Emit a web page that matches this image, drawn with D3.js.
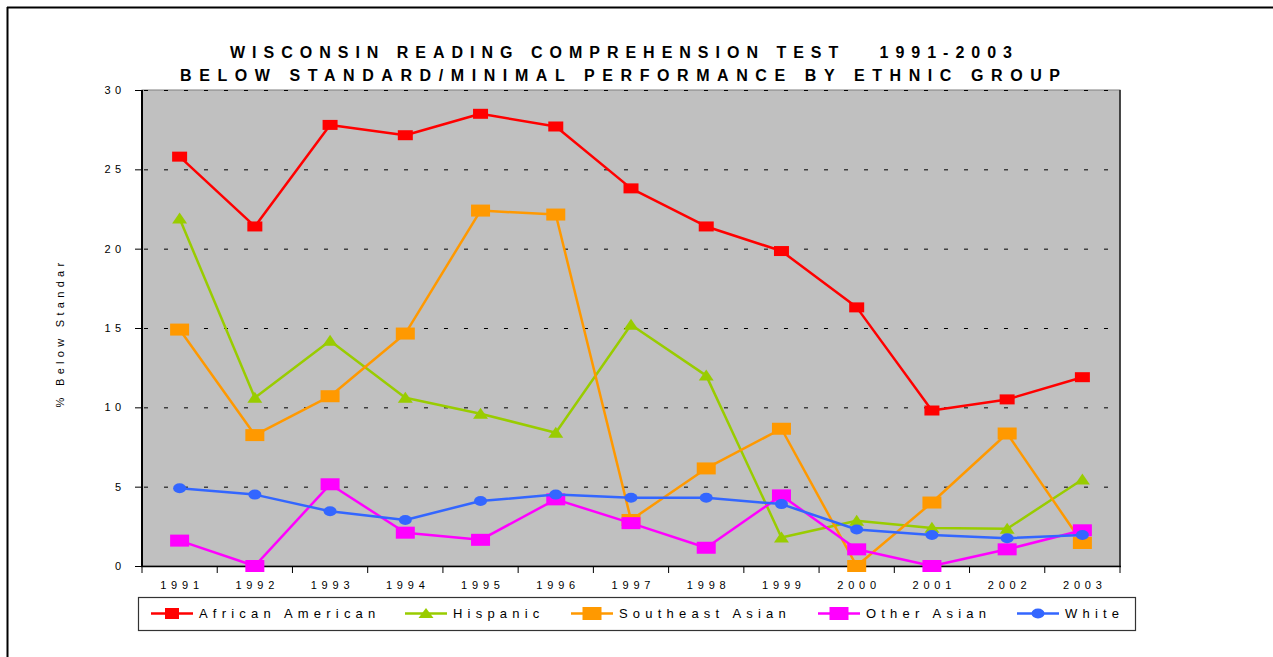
<!DOCTYPE html>
<html>
<head>
<meta charset="utf-8">
<script src="https://cdn.jsdelivr.net/npm/d3@7"></script>
<style>
  body { margin: 0; background: #fff; }
  svg { display: block; font-family: Arial, "Liberation Sans", sans-serif; }
</style>
</head>
<body>
<svg width="1273" height="657"></svg>
<script>
// data
var years = ["1991","1992","1993","1994","1995","1996","1997","1998","1999","2000","2001","2002","2003"];
var africanAmerican = [25.8, 21.4, 27.8, 27.15, 28.5, 27.7, 23.8, 21.4, 19.85, 16.3, 9.8, 10.5, 11.9];
var hispanic        = [21.9, 10.6, 14.2, 10.6, 9.6, 8.4, 15.2, 12.0, 1.8, 2.85, 2.4, 2.35, 5.45];
var southeastAsian  = [14.9, 8.25, 10.7, 14.65, 22.4, 22.15, 2.9, 6.15, 8.65, 0, 4.0, 8.35, 1.45];
var otherAsian      = [1.6, 0, 5.15, 2.1, 1.65, 4.2, 2.7, 1.15, 4.45, 1.05, 0, 1.05, 2.25];
var white           = [4.9, 4.5, 3.45, 2.9, 4.1, 4.5, 4.3, 4.3, 3.9, 2.3, 1.95, 1.75, 1.95];
var yTicks = [0, 5, 10, 15, 20, 25, 30];
var seriesNames = ["African American", "Hispanic", "Southeast Asian", "Other Asian", "White"];

var series = [
  {name: seriesNames[0], values: africanAmerican, color: "#ff0000", shape: "rect", w: 15, h: 10, lw: 14, lh: 11},
  {name: seriesNames[1], values: hispanic,        color: "#99cc00", shape: "tri",  w: 15, h: 11, lw: 15, lh: 10},
  {name: seriesNames[2], values: southeastAsian,  color: "#ff9900", shape: "rect", w: 19, h: 12, lw: 19, lh: 13},
  {name: seriesNames[3], values: otherAsian,      color: "#ff00ff", shape: "rect", w: 19, h: 12, lw: 19, lh: 13},
  {name: seriesNames[4], values: white,           color: "#3366ff", shape: "ell",  w: 13, h: 10, lw: 13, lh: 10}
];

var svg = d3.select("svg");

// page frame (top and left only)
svg.append("line").attr("x1", 7).attr("x2", 1273).attr("y1", 7.5).attr("y2", 7.5)
  .attr("stroke", "#000").attr("stroke-width", 2);
svg.append("line").attr("x1", 7.5).attr("x2", 7.5).attr("y1", 7).attr("y2", 657)
  .attr("stroke", "#000").attr("stroke-width", 2);

// title
svg.append("text").attr("x", 621).attr("y", 58).attr("text-anchor", "middle")
  .attr("font-size", 16).attr("font-weight", "bold")
  .attr("textLength", 782).attr("lengthAdjust", "spacing")
  .style("white-space", "pre")
  .text("WISCONSIN READING COMPREHENSION TEST   1991-2003");
svg.append("text").attr("x", 620).attr("y", 81).attr("text-anchor", "middle")
  .attr("font-size", 16).attr("font-weight", "bold")
  .attr("textLength", 880).attr("lengthAdjust", "spacing")
  .text("BELOW STANDARD/MINIMAL PERFORMANCE BY ETHNIC GROUP");

var x = d3.scaleBand().domain(years).range([142, 1120]);
var y = d3.scaleLinear().domain([0, 30]).range([566, 90]);

// plot area
svg.append("rect").attr("x", 142).attr("y", 90).attr("width", 978).attr("height", 476)
  .attr("fill", "#c0c0c0").attr("stroke", "#808080").attr("stroke-width", 1);
svg.append("line").attr("x1", 1120).attr("x2", 1120).attr("y1", 90).attr("y2", 566)
  .attr("stroke", "#222").attr("stroke-width", 1.5);

// dashed gridlines
svg.append("g").selectAll("line").data(yTicks.slice(1)).enter().append("line")
  .attr("x1", 142).attr("x2", 1120)
  .attr("y1", function(d) { return y(d) + 0.5; })
  .attr("y2", function(d) { return y(d) + 0.5; })
  .attr("stroke", "#000").attr("stroke-width", 1)
  .attr("stroke-dasharray", "4,16").attr("stroke-dashoffset", -2);

// y axis
var yAxis = svg.append("g").attr("transform", "translate(142,0)")
  .call(d3.axisLeft(y).tickValues(yTicks).tickSize(7).tickPadding(14).tickFormat(d3.format("d")));
yAxis.select(".domain").attr("stroke", "#000").attr("stroke-width", 2).attr("d", "M0,90V566");
yAxis.selectAll(".tick line").attr("stroke", "#000");
yAxis.selectAll(".tick text").attr("font-size", 11).attr("fill", "#000")
  .attr("font-family", "Arial, 'Liberation Sans', sans-serif")
  .style("letter-spacing", "4.2px").attr("dx", "4.2px");

svg.append("text").attr("transform", "translate(64,333) rotate(-90)")
  .attr("text-anchor", "middle").attr("font-size", 11)
  .style("letter-spacing", "4.3px")
  .text("% Below Standar");

// x axis: labels centred on categories, ticks on boundaries
var xAxis = svg.append("g").attr("transform", "translate(0,566)")
  .call(d3.axisBottom(x).tickSize(0).tickPadding(15));
xAxis.select(".domain").remove();
xAxis.selectAll(".tick text").attr("font-size", 11).attr("fill", "#000")
  .attr("font-family", "Arial, 'Liberation Sans', sans-serif")
  .style("letter-spacing", "4.8px").attr("dx", "2.4px");
svg.append("line").attr("x1", 141).attr("x2", 1121).attr("y1", 566.5).attr("y2", 566.5)
  .attr("stroke", "#000").attr("stroke-width", 1.5);
svg.append("g").selectAll("line").data(years.concat(["end"])).enter().append("line")
  .attr("x1", function(d) { return d === "end" ? x.range()[1] : x(d); })
  .attr("x2", function(d) { return d === "end" ? x.range()[1] : x(d); })
  .attr("y1", 566).attr("y2", 573)
  .attr("stroke", "#000").attr("stroke-width", 1);

function drawMarker(sel, s, cx, cy, w, h) {
  if (s.shape === "rect") {
    sel.append("rect").attr("x", cx - w / 2).attr("y", cy - h / 2)
      .attr("width", w).attr("height", h).attr("fill", s.color);
  } else if (s.shape === "tri") {
    sel.append("path")
      .attr("d", "M" + cx + "," + (cy - h * 0.55) + "L" + (cx + w / 2) + "," + (cy + h * 0.45) +
                 "L" + (cx - w / 2) + "," + (cy + h * 0.45) + "Z")
      .attr("fill", s.color);
  } else {
    sel.append("ellipse").attr("cx", cx).attr("cy", cy)
      .attr("rx", w / 2).attr("ry", h / 2).attr("fill", s.color);
  }
}

var line = d3.line()
  .x(function(d, i) { return x(years[i]) + x.bandwidth() / 2; })
  .y(function(d) { return y(d); });

series.forEach(function(s) {
  var g = svg.append("g");
  g.append("path").datum(s.values).attr("d", line)
    .attr("fill", "none").attr("stroke", s.color).attr("stroke-width", 2.5)
    .attr("stroke-linejoin", "round");
  s.values.forEach(function(v, i) {
    drawMarker(g, s, x(years[i]) + x.bandwidth() / 2, y(v), s.w, s.h);
  });
});

// legend
var legendX = [151, 405, 571, 818, 1017];
svg.append("rect").attr("x", 138.5).attr("y", 597.5).attr("width", 997).attr("height", 33)
  .attr("fill", "#fff").attr("stroke", "#333").attr("stroke-width", 1.2);
series.forEach(function(s, i) {
  var lg = svg.append("g").attr("transform", "translate(" + legendX[i] + ",613.5)");
  lg.append("line").attr("x1", 0).attr("x2", 42).attr("y1", 0).attr("y2", 0)
    .attr("stroke", s.color).attr("stroke-width", 2.5);
  drawMarker(lg, s, 21, 0, s.lw, s.lh);
  lg.append("text").attr("x", 48).attr("y", 4.5).attr("font-size", 13)
    .style("letter-spacing", "5.2px").text(s.name);
});
</script>
</body>
</html>
